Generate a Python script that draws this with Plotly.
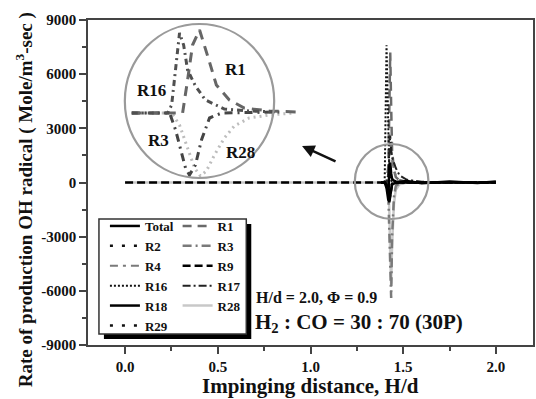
import plotly.graph_objects as go

W, H = 536, 399
ML, MR, MT, MB = 88, 1, 20, 54


def px(x):
    return (x - ML) / (W - ML - MR)


def py(y):
    return (H - MB - y) / (H - MT - MB)


SERIF = "Liberation Serif"

# ---------------- main data ----------------
X_FULL = [0.0, 1.38, 1.40, 1.41, 1.42, 1.425, 1.43, 1.435, 1.44, 1.45, 1.46, 1.48, 1.52, 1.60, 1.75, 1.90, 2.0]
X_REACT = [1.38, 1.40, 1.41, 1.42, 1.425, 1.43, 1.435, 1.44, 1.45, 1.46, 1.48, 1.52, 1.60, 1.75, 1.90, 2.0]

R9 = [0, 0, 0, -200, -600, -1000, -700, -300, -100, 0, 0, 0, 0, 0, 0, 0, 0]
R28 = [0, 0, 0, 0, -300, -1500, -4000, -5600, -3500, -1200, -400, -100, 0, 0, 0, 0, 0]

R1 = [0, 0, 0, 900, 3500, 7200, 4200, 1800, 700, 300, 120, 40, 10, 0, 0, 0]
R16 = [0, 0, 7600, 2500, 600, 200, 80, 30, 0, 0, 0, 0, 0, 0, 0, 0]
R3 = [0, 0, 0, -800, -3000, -5500, -6400, -3000, -800, -200, -50, 0, 0, 0, 0, 0]
R4 = [0, 0, 0, 300, 1200, 2200, 1800, 1200, 700, 400, 150, 40, 0, 0, 0, 0]
R17 = [0, 0, 0, 500, 2000, 2600, 1800, 1400, 1100, 800, 400, 150, 40, 10, 0, 0]
R2 = [0, 0, 100, 400, 800, 500, 200, 60, 20, 0, 0, 0, 0, 0, 0, 0]
R29 = [0, 0, -100, -300, -600, -400, -200, -60, 0, 0, 0, 0, 0, 0, 0, 0]
TOTAL = [0, 0, -300, -1000, 900, 1100, 500, 200, 100, 60, 40, 80, -40, 60, -30, 50]
R18 = [0, 0, -100, -400, -1100, -800, -300, -100, -50, -20, 0, 0, 0, 0, 0, 0]

# ---------------- inset (magnified) data ----------------
IN_R16_X = [1.3923, 1.4133, 1.4156, 1.4179, 1.4202, 1.4226, 1.4249, 1.4295, 1.4353, 1.4464, 1.4609, 1.4784]
IN_R16_Y = [0, 0, 800, 4300, 8000, 6800, 4300, 2700, 1300, 400, 200, 100]
IN_R1_X = [1.3923, 1.4220, 1.4249, 1.4278, 1.4319, 1.4348, 1.4377, 1.4417, 1.4493, 1.4580, 1.4726, 1.4883]
IN_R1_Y = [0, 0, 3300, 6800, 8300, 6800, 5100, 2800, 1300, 500, 200, 100]
IN_R3_X = [1.3923, 1.4144, 1.4179, 1.4208, 1.4237, 1.4260, 1.4295, 1.4330, 1.4377, 1.4447, 1.4784]
IN_R3_Y = [0, 0, -1700, -3700, -5500, -6200, -5200, -2700, -500, 0, 100]
IN_R28_X = [1.3923, 1.4156, 1.4202, 1.4249, 1.4290, 1.4324, 1.4359, 1.4406, 1.4464, 1.4522, 1.4609, 1.4726, 1.4870]
IN_R28_Y = [0, 0, -1200, -3500, -5500, -6300, -5800, -4200, -2500, -1300, -500, -200, 0]

X_TICKS = [0.0, 0.5, 1.0, 1.5, 2.0]
X_TICKTEXT = ["0.0", "0.5", "1.0", "1.5", "2.0"]
Y_TICKS = [-9000, -6000, -3000, 0, 3000, 6000, 9000]
Y_TICKTEXT = ["-9000", "-6000", "-3000", "0", "3000", "6000", "9000"]

fig = go.Figure()


def add(name, x, y, color, dash, width, legend, rank):
    fig.add_trace(go.Scatter(
        x=x, y=y, mode="lines", name=name,
        line=dict(color=color, dash=dash, width=width),
        legend=legend, legendrank=rank, hoverinfo="skip"))


# draw order (bottom -> top)
add("R28", X_FULL, R28, "#c8c8c8", "solid", 2.5, "legend2", 5)
add("R1", X_REACT, R1, "#6a6a6a", "9px,6px", 2.5, "legend2", 1)
add("R3", X_REACT, R3, "#7a7a7a", "9px,4px,2px,4px", 2.5, "legend2", 2)
add("R4", X_REACT, R4, "#7a7a7a", "8px,5px,3px,5px", 2, "legend", 3)
add("R16", X_REACT, R16, "#111111", "2px,2px", 2, "legend", 4)
add("R17", X_REACT, R17, "#222222", "8px,3px,2px,3px", 2, "legend2", 4)
add("R2", X_REACT, R2, "#111111", "3px,9px", 2.5, "legend", 2)
add("R29", X_REACT, R29, "#111111", "3px,9px", 2.5, "legend", 6)
add("Total", X_REACT, TOTAL, "#000000", "solid", 2.5, "legend", 1)
add("R18", X_REACT, R18, "#000000", "solid", 2.5, "legend", 5)
add("R9", X_FULL, R9, "#000000", "8px,4px", 2.5, "legend2", 3)


def add_in(x, y, color, dash):
    fig.add_trace(go.Scatter(
        x=x, y=y, mode="lines", showlegend=False, xaxis="x2", yaxis="y2",
        line=dict(color=color, dash=dash, width=3), hoverinfo="skip"))


add_in(IN_R28_X, IN_R28_Y, "#bdbdbd", "2px,4px")
add_in(IN_R3_X, IN_R3_Y, "#454545", "8px,5px,2px,5px")
add_in(IN_R1_X, IN_R1_Y, "#666666", "10px,7px")
add_in(IN_R16_X, IN_R16_Y, "#505050", "6px,4px,2px,4px")

tickfont = dict(family=SERIF, size=15, color="#111", weight="bold")
AXC = "#444444"
LEGFONT = dict(family=SERIF, size=13, color="#111", weight="bold")

fig.update_layout(
    width=W, height=H,
    margin=dict(l=ML, r=MR, t=MT, b=MB, pad=0),
    paper_bgcolor="white", plot_bgcolor="white",
    xaxis=dict(
        range=[-0.2, 2.2], tickvals=X_TICKS, ticktext=X_TICKTEXT,
        showgrid=False, zeroline=False, showline=True, linecolor=AXC, linewidth=1.5,
        mirror=True, ticks="outside", ticklen=7, tickwidth=1.5, tickcolor=AXC,
        minor=dict(ticks="outside", ticklen=4, tickwidth=1.5, tickcolor=AXC, dtick=0.25, tick0=0),
        tickfont=tickfont,
    ),
    yaxis=dict(
        range=[-9000, 9000], tickvals=Y_TICKS, ticktext=Y_TICKTEXT,
        showgrid=False, zeroline=False, showline=True, linecolor=AXC, linewidth=1.5,
        mirror=True, ticks="outside", ticklen=7, tickwidth=1.5, tickcolor=AXC,
        minor=dict(ticks="outside", ticklen=4, tickwidth=1.5, tickcolor=AXC, dtick=1500, tick0=0),
        tickfont=tickfont,
    ),
    xaxis2=dict(domain=[px(128), px(300)], range=[1.39, 1.49], anchor="y2",
                visible=False, showgrid=False, zeroline=False),
    yaxis2=dict(domain=[py(180), py(25)], range=[-6700, 8800], anchor="x2",
                visible=False, showgrid=False, zeroline=False),
    legend=dict(x=px(105), y=py(211), xanchor="left", yanchor="top",
                bgcolor="rgba(0,0,0,0)", borderwidth=0, itemwidth=30, tracegroupgap=0,
                font=LEGFONT),
    legend2=dict(x=px(178), y=py(211), xanchor="left", yanchor="top",
                 bgcolor="rgba(0,0,0,0)", borderwidth=0, itemwidth=30, tracegroupgap=0,
                 font=LEGFONT),
    showlegend=True,
)

shapes = [
    # legend shadow and box
    dict(type="rect", xref="paper", yref="paper", x0=px(104), x1=px(252), y0=py(339), y1=py(224),
         fillcolor="black", line=dict(width=0), layer="above"),
    dict(type="rect", xref="paper", yref="paper", x0=px(99), x1=px(247), y0=py(334), y1=py(219),
         fillcolor="white", line=dict(color="#333", width=1.5), layer="above"),
    # big inset circle
    dict(type="circle", xref="paper", yref="paper", x0=px(125), x1=px(275), y0=py(178), y1=py(24),
         line=dict(color="#9a9a9a", width=2.2), layer="above"),
    # small circle around reaction zone
    dict(type="circle", xref="paper", yref="paper", x0=px(356), x1=px(430), y0=py(219), y1=py(144),
         line=dict(color="#9a9a9a", width=2.2), layer="above"),
]
fig.update_layout(shapes=shapes)


def bold(s):
    return dict(family=SERIF, size=s, color="#111", weight="bold")


def label(xp, yp, text, size, xanchor="center", angle=0):
    return dict(x=px(xp), y=py(yp), xref="paper", yref="paper", showarrow=False,
                xanchor=xanchor, yanchor="middle", textangle=angle, text=text, font=bold(size))


ann = [
    label(24, 200, "Rate of production OH radical ( Mole/m<sup>3</sup>-sec )", 19, angle=-90),
    label(311, 386, "Impinging distance, H/d", 21),
    label(255, 297, "H/d = 2.0, Φ = 0.9", 16, xanchor="left"),
    label(254, 323, "H<sub>2</sub> : CO = 30 : 70 (30P)", 21, xanchor="left"),
    label(236, 69, "R1", 17),
    label(152, 90, "R16", 17),
    label(159, 140, "R3", 17),
    label(241, 152, "R28", 17),
    dict(x=px(303), y=py(146), xref="paper", yref="paper", text="", showarrow=True,
         ax=35, ay=16, arrowhead=2, arrowsize=1, arrowwidth=2.5, arrowcolor="#111"),
]
fig.update_layout(annotations=ann)

fig.write_html("out.html")
